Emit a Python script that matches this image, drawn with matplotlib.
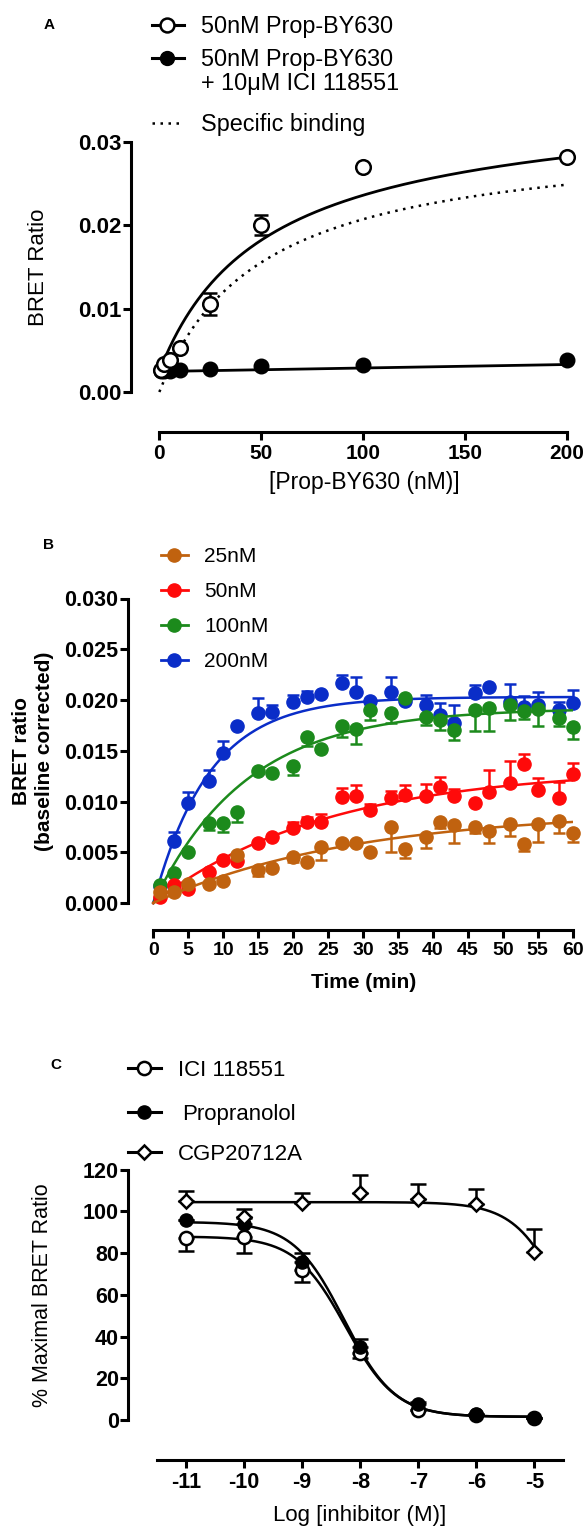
import numpy as np
import matplotlib
matplotlib.use('Agg')
import matplotlib.pyplot as plt
from matplotlib.lines import Line2D

plt.rcParams['font.family'] = ['Liberation Sans', 'DejaVu Sans']

W, H = 588, 1532

# ---------------- data: panel A (saturation binding) ----------------
conc_a = [1, 2.5, 5, 10, 25, 50, 100, 200]
total_a = [0.0026, 0.0034, 0.0039, 0.0053, 0.0106, 0.0200, 0.0270, 0.0282]
total_a_err = [0, 0, 0, 0, 0.0013, 0.0012, 0, 0]
nsb_a = [0.0025, 0.0025, 0.0025, 0.0026, 0.0028, 0.0031, 0.0033, 0.0039]
# fitted one-site model
bmax_a = 0.0311
kd_a = 50.0
ns_slope_a = 4.2e-6
ns_icpt_a = 0.00246

# ---------------- data: panel B (association kinetics) ----------------
time_b = [1, 3, 5, 8, 10, 12, 15, 17, 20, 22, 24, 27, 29, 31, 34, 36, 39,
          41, 43, 46, 48, 51, 53, 55, 58, 60]
nm25 = [0.0011, 0.0011, 0.0019, 0.0019, 0.0022, 0.0047, 0.0033, 0.0034,
        0.0045, 0.0040, 0.0055, 0.0059, 0.0059, 0.0050, 0.0075, 0.0053,
        0.0065, 0.0080, 0.0077, 0.0075, 0.0071, 0.0078, 0.0058, 0.0078,
        0.0081, 0.0069]
nm25_err = [0, 0, 0, 0, 0, 0.0004, 0.0006, 0, 0.0005, 0, 0.0013, 0, 0,
            0, 0.0025, 0.0009, 0.0011, 0.0006, 0.0018, 0.0006, 0.0012,
            0.0012, 0.0007, 0.0018, 0.0012, 0.0009]
nm50 = [0.0006, 0.0018, 0.0014, 0.0031, 0.0042, 0.0041, 0.0059, 0.0065,
        0.0074, 0.0080, 0.0080, 0.0104, 0.0105, 0.0092, 0.0103, 0.0106,
        0.0105, 0.0114, 0.0105, 0.0099, 0.0109, 0.0118, 0.0137, 0.0111,
        0.0103, 0.0127]
nm50_err = [0, 0, 0, 0, 0, 0, 0, 0, 0.0006, 0.0005, 0.0008, 0.0009,
            0.0011, 0.0006, 0.0007, 0.0010, 0.0012, 0.0010, 0.0007, 0,
            0.0022, 0.0022, 0.0010, 0.0012, 0.0016, 0.0011]
nm100 = [0.0018, 0.0030, 0.0050, 0.0079, 0.0079, 0.0090, 0.0130, 0.0128,
         0.0135, 0.0164, 0.0152, 0.0174, 0.0171, 0.0190, 0.0187, 0.0202,
         0.0183, 0.0180, 0.0170, 0.0190, 0.0192, 0.0195, 0.0189, 0.0191,
         0.0182, 0.0173]
nm100_err = [0, 0, 0, 0.0007, 0.0009, 0.0010, 0, 0, 0.0009, 0.0009, 0,
             0.0010, 0.0014, 0.0010, 0.0010, 0, 0.0008, 0.0010, 0.0009,
             0.0021, 0.0023, 0.0015, 0.0008, 0.0017, 0.0008, 0.0011]
nm200 = [0.0017, 0.0061, 0.0099, 0.0120, 0.0148, 0.0174, 0.0187, 0.0188,
         0.0198, 0.0203, 0.0206, 0.0217, 0.0208, 0.0199, 0.0208, 0.0199,
         0.0195, 0.0185, 0.0177, 0.0207, 0.0213, 0.0198, 0.0193, 0.0195,
         0.0190, 0.0197]
nm200_err = [0, 0.0009, 0.0010, 0.0011, 0.0012, 0, 0.0015, 0.0007,
             0.0007, 0.0006, 0, 0.0008, 0.0015, 0, 0.0015, 0, 0.0010,
             0.0012, 0.0018, 0.0008, 0, 0.0018, 0.0011, 0.0013, 0.0008,
             0.0013]
# one-phase association fits (plateau, k per min)
fit_b = {'25nM': (0.0091, 0.035), '50nM': (0.0133, 0.040),
         '100nM': (0.0192, 0.075), '200nM': (0.0203, 0.125)}

# ---------------- data: panel C (competition) ----------------
log_c = [-11, -10, -9, -8, -7, -6, -5]
ici = [87.5, 88, 72, 32, 5, 2.5, 1]
ici_err = [6.5, 8, 6, 2.5, 0, 0, 0]
prop = [96, 94, 76, 35, 7.5, 3, 0.8]
prop_err = [0, 3, 4, 4, 1, 0, 0]
cgp = [105, 97.5, 104, 109, 106, 103.5, 80.5]
cgp_err = [5, 3.5, 5, 8.5, 7, 7.5, 11]
# 4-parameter fits (top, bottom, logIC50, hill)
fit_c = {'ici': (88, 1.5, -8.25, 1.0), 'prop': (95, 1.5, -8.28, 1.0),
         'cgp': (104.5, 0.0, -4.41, 1.0)}

col25, col50, col100, col200 = '#C0620F', '#FF0A0A', '#1C8A1C', '#0A2DC8'

fig = plt.figure(figsize=(W / 100, H / 100), dpi=100)


def fx(x):
    return x / W


def fy(y):
    return 1 - y / H


def add_ax(left, top, right, bottom):
    return fig.add_axes([fx(left), fy(bottom), (right - left) / W, (bottom - top) / H])


def style(ax, xb, yb, xsize, ysize):
    for s in ['top', 'right']:
        ax.spines[s].set_visible(False)
    for s in ['left', 'bottom']:
        ax.spines[s].set_linewidth(2.2)
    ax.spines['left'].set_bounds(*yb)
    ax.spines['bottom'].set_bounds(*xb)
    ax.tick_params(width=2.2, length=5.5, pad=1)
    ax.tick_params(axis='x', pad=3, labelsize=xsize)
    ax.tick_params(axis='y', labelsize=ysize)
    plt.setp(ax.get_xticklabels() + ax.get_yticklabels(), fontweight='bold')


def leg_entry(x0, x1, xm, y, xt, label, size, color='black', ls='-', lw=2.0, **mk):
    fig.add_artist(Line2D([fx(x0), fx(x1)], [fy(y), fy(y)], transform=fig.transFigure,
                          color=color, ls=ls, lw=lw))
    if mk:
        fig.add_artist(Line2D([fx(xm)], [fy(y)], transform=fig.transFigure, color=color, **mk))
    cap = 0.716 * size * 100 / 72
    fig.text(fx(xt), fy(y + cap / 2), label, fontsize=size, va='baseline', ha='left')


# ================= panel A =================
axA = add_ax(131, 142, 567, 432)
xs = np.linspace(1, 200, 300)
spec = bmax_a * xs / (kd_a + xs)
ns = ns_icpt_a + ns_slope_a * xs
xs0 = np.linspace(0, 200, 300)
axA.plot(xs0, bmax_a * xs0 / (kd_a + xs0), ls=(0, (1, 2.2)), color='black', lw=1.8, zorder=2)
axA.plot(xs, spec + ns, color='black', lw=2.0, zorder=2)
axA.plot(np.linspace(5, 200, 50), ns_icpt_a + ns_slope_a * np.linspace(5, 200, 50),
         color='black', lw=2.0, zorder=2)
axA.errorbar(conc_a, nsb_a, fmt='o', color='black', ms=10.5, clip_on=False, zorder=3)
axA.errorbar(conc_a, total_a, yerr=total_a_err, fmt='o', color='black', mfc='white',
             mec='black', mew=1.8, ms=10.5, capsize=5, elinewidth=1.8, capthick=1.8,
             clip_on=False, zorder=4)
axA.set_xlim(-13.9, 200)
axA.set_ylim(-0.0048, 0.03)
axA.set_xticks([0, 50, 100, 150, 200])
axA.set_xticklabels(['0', '50', '100', '150', '200'])
axA.set_yticks([0, 0.01, 0.02, 0.03])
axA.set_yticklabels(['0.00', '0.01', '0.02', '0.03'])
style(axA, (0, 200), (0, 0.03), 15, 16)
axA.set_ylabel('BRET Ratio', fontsize=16, va='center')
axA.yaxis.set_label_coords(fx(39), fy(267), transform=fig.transFigure)
axA.set_xlabel('[Prop-BY630 (nM)]', fontsize=16.5, va='center')
axA.xaxis.set_label_coords(fx(364), fy(483), transform=fig.transFigure)

fig.text(fx(49), fy(25), 'A', fontsize=11, fontweight='bold', ha='center', va='center')
leg_entry(152, 184, 167, 25, 201, '50nM Prop-BY630', 16.8, lw=2.2,
          marker='o', ms=10, mfc='white', mec='black', mew=1.8)
leg_entry(152, 184, 167, 58, 201, '50nM Prop-BY630', 16.8, lw=2.2,
          marker='o', ms=10, mfc='black', mec='black')
leg_entry(0, 0, 0, 82, 201, '+ 10\u03bcM ICI 118551', 16.8, lw=0)
leg_entry(152, 184, 0, 123, 201, 'Specific binding', 16.8, ls=(0, (1, 2.2)), lw=1.8)

# ================= panel B =================
axB = add_ax(127.5, 598.5, 572.7, 930)
tt = np.linspace(0, 60, 300)
series_b = [('200nM', nm200, nm200_err, col200, 'up'),
            ('100nM', nm100, nm100_err, col100, 'down'),
            ('50nM', nm50, nm50_err, col50, 'up'),
            ('25nM', nm25, nm25_err, col25, 'down')]
z = 2
for name, vals, err, c, side in series_b:
    plat, k = fit_b[name]
    axB.plot(tt, plat * (1 - np.exp(-k * tt)), color=c, lw=1.8, zorder=z)
    zero = np.zeros(len(err))
    yerr = [zero, err] if side == 'up' else [err, zero]
    axB.errorbar(time_b, vals, yerr=yerr, fmt='o', color=c, ms=9.5, capsize=4,
                 elinewidth=1.8, capthick=1.8, clip_on=False, zorder=z + 0.5)
    z += 1
axB.set_xlim(-3.69, 60)
axB.set_ylim(-0.00266, 0.030)
axB.set_xticks(range(0, 61, 5))
axB.set_xticklabels([str(v) for v in range(0, 61, 5)])
axB.set_yticks([0, 0.005, 0.01, 0.015, 0.02, 0.025, 0.03])
axB.set_yticklabels(['0.000', '0.005', '0.010', '0.015', '0.020', '0.025', '0.030'])
style(axB, (0, 60), (0, 0.03), 14, 15.5)
axB.set_ylabel('BRET ratio\n(baseline corrected)', fontsize=15, fontweight='bold',
               va='center', linespacing=1.3)
axB.yaxis.set_label_coords(fx(33), fy(751), transform=fig.transFigure)
axB.set_xlabel('Time (min)', fontsize=15, fontweight='bold', va='center')
axB.xaxis.set_label_coords(fx(364), fy(983), transform=fig.transFigure)

fig.text(fx(49), fy(545), 'B', fontsize=11, fontweight='bold', ha='center', va='center')
for yy, (name, c) in zip([555, 590, 625, 660],
                         [('25nM', col25), ('50nM', col50), ('100nM', col100), ('200nM', col200)]):
    leg_entry(161, 187.5, 174, yy, 204, name, 15, color=c, lw=2.0, marker='o', ms=9.5)

# ================= panel C =================
axC = add_ax(128, 1169.8, 563.4, 1460)
xx = np.linspace(-11, -5, 300)


def four_pl(x, p):
    top, bot, lic, h = p
    return bot + (top - bot) / (1 + 10 ** ((x - lic) * h))


for key in ['ici', 'prop', 'cgp']:
    axC.plot(xx, four_pl(xx, fit_c[key]), color='black', lw=1.8, zorder=2)
zc = np.zeros(len(log_c))
axC.errorbar(log_c, ici, yerr=[ici_err, zc], fmt='o', color='black', mfc='white',
             mec='black', mew=1.8, ms=9.5, capsize=6, elinewidth=1.8, capthick=1.8,
             clip_on=False, zorder=3)
axC.errorbar(log_c, prop, yerr=[zc, prop_err], fmt='o', color='black', ms=9.5,
             capsize=6, elinewidth=1.8, capthick=1.8, clip_on=False, zorder=4)
axC.errorbar(log_c, cgp, yerr=[zc, cgp_err], fmt='D', color='black', mfc='white',
             mec='black', mew=1.8, ms=6.8, capsize=6, elinewidth=1.8, capthick=1.8,
             clip_on=False, zorder=5)
axC.set_xlim(-12.0, -4.5)
axC.set_ylim(-19.2, 120)
axC.set_xticks(log_c)
axC.set_xticklabels([str(v) for v in log_c])
axC.set_yticks(range(0, 121, 20))
axC.set_yticklabels([str(v) for v in range(0, 121, 20)])
style(axC, (-11.5, -4.5), (0, 120), 15.5, 15.5)
axC.set_ylabel('% Maximal BRET Ratio', fontsize=15.5, va='center')
axC.yaxis.set_label_coords(fx(43), fy(1295), transform=fig.transFigure)
axC.set_xlabel('Log [inhibitor (M)]', fontsize=16, va='center')
axC.xaxis.set_label_coords(fx(360), fy(1516), transform=fig.transFigure)

fig.text(fx(56), fy(1065), 'C', fontsize=11, fontweight='bold', ha='center', va='center')
leg_entry(127.5, 161, 144, 1068, 178, 'ICI 118551', 16, lw=2.2,
          marker='o', ms=9.5, mfc='white', mec='black', mew=1.8)
leg_entry(127.5, 161, 144, 1112, 182, 'Propranolol', 16, lw=2.2,
          marker='o', ms=9.5, mfc='black', mec='black')
leg_entry(127.5, 161, 144, 1152, 178, 'CGP20712A', 16, lw=2.2,
          marker='D', ms=6.8, mfc='white', mec='black', mew=1.8)

fig.savefig('out.png', dpi=100)
